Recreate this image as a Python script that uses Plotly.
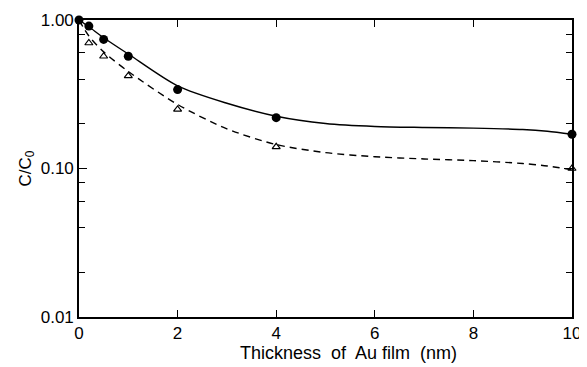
import plotly.graph_objects as go

# Measured data points
x_pts = [0, 0.2, 0.5, 1, 2, 4, 10]
y_circles = [1.0, 0.91, 0.74, 0.57, 0.34, 0.22, 0.17]
x_tri = [0.2, 0.5, 1, 2, 4, 10]
y_triangles = [0.70, 0.57, 0.42, 0.25, 0.14, 0.10]

# Fitted curves
x_curve_solid = [0, 0.2, 0.5, 1, 2, 3, 4, 5, 6, 7, 8, 9, 9.5, 10]
y_curve_solid = [1.0, 0.9, 0.76, 0.59, 0.36, 0.275, 0.225, 0.201, 0.192, 0.189, 0.187, 0.183, 0.178, 0.17]
x_curve_dash = [0, 0.2, 0.5, 1, 2, 3, 4, 5, 6, 7, 8, 9, 9.5, 10]
y_curve_dash = [1.0, 0.78, 0.61, 0.45, 0.27, 0.185, 0.145, 0.128, 0.12, 0.116, 0.113, 0.108, 0.104, 0.098]

x_ticks = [0, 2, 4, 6, 8, 10]
y_ticks = [0.01, 0.1, 1.0]
y_tick_labels = ["0.01", "0.10", "1.00"]
y_minor = [0.02, 0.04, 0.06, 0.08, 0.2, 0.4, 0.6, 0.8]

fig = go.Figure()
fig.add_trace(go.Scatter(x=x_curve_solid, y=y_curve_solid, mode="lines",
                         line=dict(color="black", width=1.4, shape="spline", smoothing=0.8),
                         showlegend=False, hoverinfo="skip"))
fig.add_trace(go.Scatter(x=x_curve_dash, y=y_curve_dash, mode="lines",
                         line=dict(color="black", width=1.4, dash="7px,5px", shape="spline", smoothing=0.8),
                         showlegend=False, hoverinfo="skip"))
fig.add_trace(go.Scatter(x=x_pts, y=y_circles, mode="markers",
                         marker=dict(symbol="circle", size=9, color="black"),
                         cliponaxis=False, showlegend=False))
fig.add_trace(go.Scatter(x=x_tri, y=y_triangles, mode="markers",
                         marker=dict(symbol="triangle-up-open", size=7, color="black",
                                     line=dict(width=1.2)),
                         cliponaxis=False, showlegend=False))
# invisible trace to carry the right-hand tick axis
fig.add_trace(go.Scatter(x=[x_ticks[0]], y=[y_ticks[-1]], yaxis="y2", mode="markers",
                         marker=dict(opacity=0), showlegend=False, hoverinfo="skip"))

font_family = "Liberation Sans, Arial, sans-serif"
fig.update_layout(
    width=579, height=359,
    margin=dict(l=71, r=15, t=12, b=50),
    paper_bgcolor="white", plot_bgcolor="white",
    font=dict(family=font_family, size=17, color="black"),
    xaxis=dict(range=[0, 10], tickvals=x_ticks, ticks="inside", ticklen=7, tickwidth=1.3,
               tickcolor="black", showline=True, linecolor="black", linewidth=1.6,
               mirror="ticks", showgrid=False, zeroline=False, automargin=False,
               tickfont=dict(size=17)),
    yaxis=dict(type="log", range=[-2, 0], tickvals=y_ticks, ticktext=y_tick_labels,
               ticks="inside", ticklen=8, tickwidth=1.3, tickcolor="black",
               showline=True, linecolor="black", linewidth=1.6, mirror=True,
               showgrid=False, zeroline=False, automargin=False,
               minor=dict(tickvals=y_minor, ticks="inside", ticklen=6, tickwidth=1.2,
                          tickcolor="black", showgrid=False),
               tickfont=dict(size=17)),
    yaxis2=dict(type="log", range=[-2, 0], overlaying="y", side="right",
                tickvals=y_ticks, ticks="inside", ticklen=8, tickwidth=1.3, tickcolor="black",
                showticklabels=False, showline=False, showgrid=False, zeroline=False,
                automargin=False,
                minor=dict(tickvals=y_minor, ticks="inside", ticklen=6, tickwidth=1.2,
                           tickcolor="black", showgrid=False)),
    annotations=[
        dict(text="Thickness  of  Au film  (nm)", x=0.546, y=-0.08, xref="paper", yref="paper",
             xanchor="center", yanchor="top", showarrow=False, font=dict(size=18)),
        dict(text="C/C<sub>0</sub>", x=-0.1075, y=-1, xref="paper", yref="y",
             xanchor="center", yanchor="middle", textangle=-90, showarrow=False,
             font=dict(size=17)),
    ],
)

fig.write_html("out.html")
